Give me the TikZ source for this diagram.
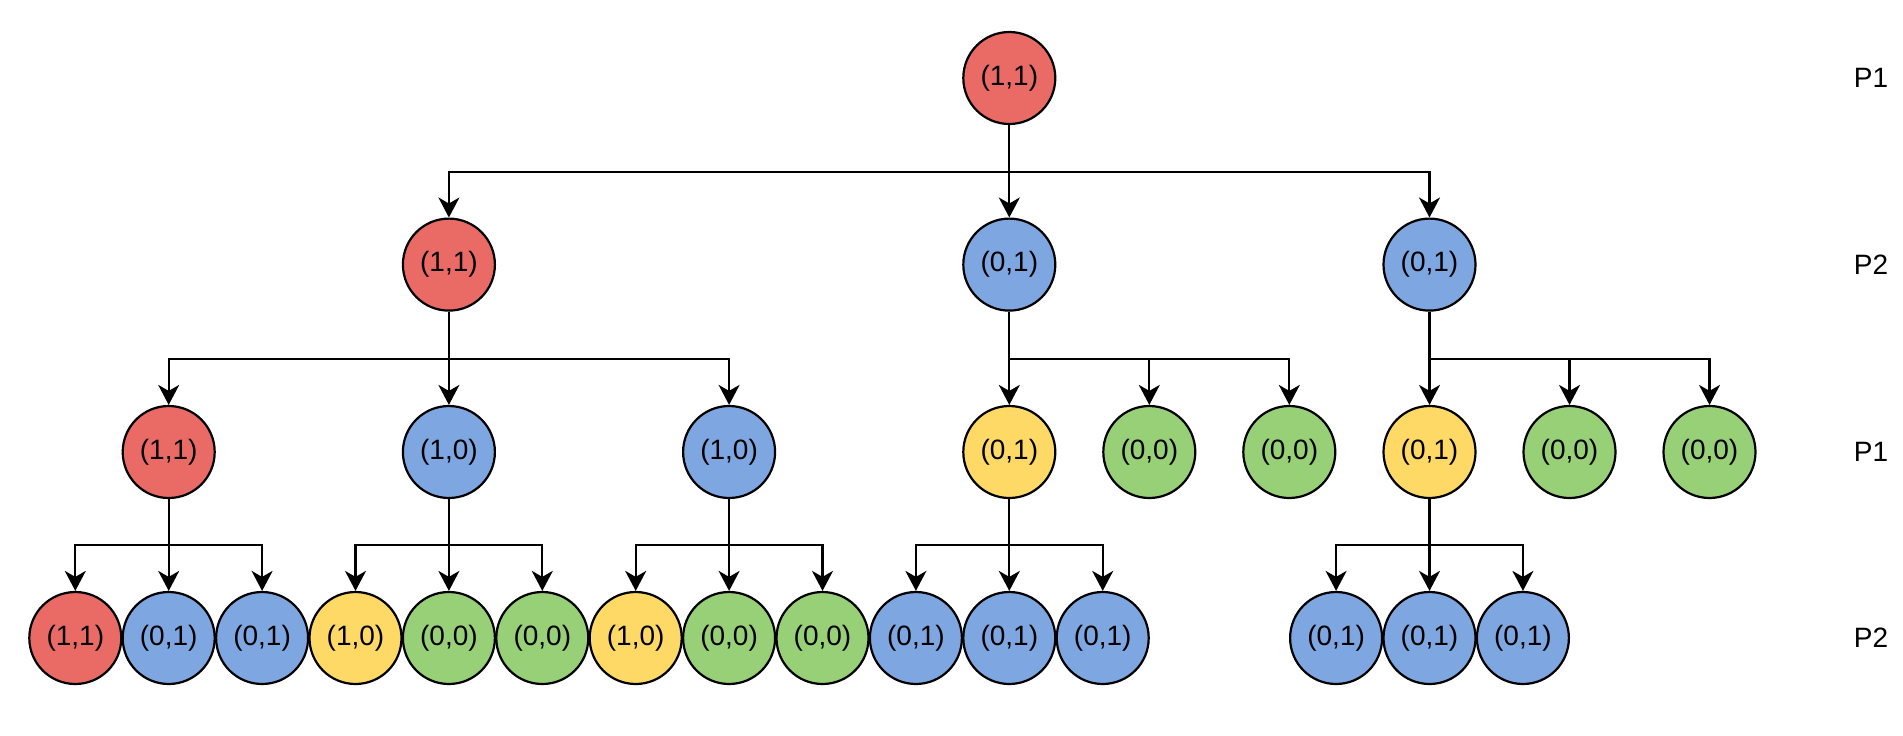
\documentclass[tikz,border=0pt]{standalone}
\usepackage{fontspec}
\setmainfont{Liberation Sans}
\usetikzlibrary{arrows.meta}
\definecolor{cred}{HTML}{EA6B66}
\definecolor{cblue}{HTML}{7EA6E0}
\definecolor{cyellow}{HTML}{FFD966}
\definecolor{cgreen}{HTML}{97D077}
\tikzset{
  st/.style={circle,draw=black,line width=2.2pt,minimum size=92pt,inner sep=0pt,font=\fontsize{28}{32}\selectfont},
  R/.style={st,fill=cred},
  B/.style={st,fill=cblue},
  Y/.style={st,fill=cyellow},
  G/.style={st,fill=cgreen},
  lab/.style={font=\fontsize{28}{32}\selectfont},
  arr/.style={line width=2.2pt,-{Stealth[length=20pt,width=21pt,inset=6pt]}}
}
\begin{document}
\begin{tikzpicture}[x=1pt,y=-1pt]
\useasboundingbox (0,0) rectangle (1903,736);
% level 1
\node[R] (r) at (1009.3,78) {(1,1)};
% level 2
\node[R] (a) at (448.9,264.6) {(1,1)};
\node[B] (b) at (1009.3,264.6) {(0,1)};
\node[B] (c) at (1429.5,264.6) {(0,1)};
% level 3
\node[R] (a1) at (168.7,452) {(1,1)};
\node[B] (a2) at (448.9,452) {(1,0)};
\node[B] (a3) at (729.1,452) {(1,0)};
\node[Y] (b1) at (1009.3,452) {(0,1)};
\node[G] (b2) at (1149.3,452) {(0,0)};
\node[G] (b3) at (1289.3,452) {(0,0)};
\node[Y] (c1) at (1429.5,452) {(0,1)};
\node[G] (c2) at (1569.5,452) {(0,0)};
\node[G] (c3) at (1709.5,452) {(0,0)};
% level 4
\node[R] (a11) at (75.3,638) {(1,1)};
\node[B] (a12) at (168.7,638) {(0,1)};
\node[B] (a13) at (262.1,638) {(0,1)};
\node[Y] (a21) at (355.5,638) {(1,0)};
\node[G] (a22) at (448.9,638) {(0,0)};
\node[G] (a23) at (542.3,638) {(0,0)};
\node[Y] (a31) at (635.7,638) {(1,0)};
\node[G] (a32) at (729.1,638) {(0,0)};
\node[G] (a33) at (822.5,638) {(0,0)};
\node[B] (b11) at (915.9,638) {(0,1)};
\node[B] (b12) at (1009.3,638) {(0,1)};
\node[B] (b13) at (1102.7,638) {(0,1)};
\node[B] (c11) at (1336.1,638) {(0,1)};
\node[B] (c12) at (1429.5,638) {(0,1)};
\node[B] (c13) at (1522.9,638) {(0,1)};
% player labels
\node[lab] (p1) at (1871,78) {P1};
\node[lab] (p2) at (1871,264.6) {P2};
\node[lab] (p3) at (1871,452) {P1};
\node[lab] (p4) at (1871,638) {P2};
% edges
\foreach \c in {a,b,c}
  \draw[arr] (r.south) -- (r.south |- 0,171.7) -| (\c.north);
\foreach \p in {a,b,c}
  \foreach \i in {1,2,3}
    \draw[arr] (\p.south) -- (\p.south |- 0,358.7) -| (\p\i.north);
\foreach \p in {a1,a2,a3,b1,c1}
  \foreach \i in {1,2,3}
    \draw[arr] (\p.south) -- (\p.south |- 0,545) -| (\p\i.north);
\end{tikzpicture}
\end{document}
